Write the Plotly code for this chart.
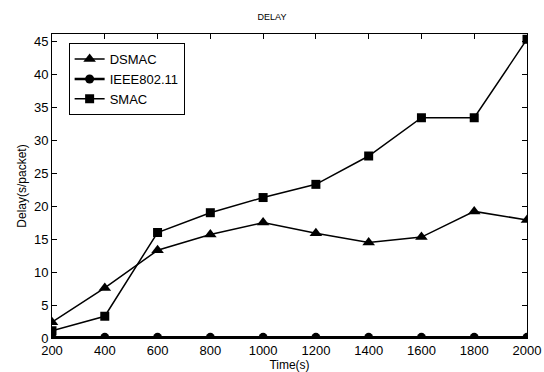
import plotly.graph_objects as go

time_s = [200, 400, 600, 800, 1000, 1200, 1400, 1600, 1800, 2000]
dsmac = [2.4, 7.6, 13.3, 15.7, 17.5, 15.9, 14.5, 15.3, 19.2, 17.9]
ieee80211 = [0.1, 0.1, 0.1, 0.1, 0.1, 0.1, 0.1, 0.1, 0.1, 0.1]
smac = [1.1, 3.3, 16.0, 19.0, 21.3, 23.3, 27.6, 33.4, 33.4, 45.3]
x_ticks = [200, 400, 600, 800, 1000, 1200, 1400, 1600, 1800, 2000]
y_ticks = [0, 5, 10, 15, 20, 25, 30, 35, 40, 45]

font = "Liberation Sans, Arial, sans-serif"
fig = go.Figure()
fig.add_trace(go.Scatter(x=time_s, y=dsmac, name="DSMAC", mode="lines+markers",
                         line=dict(color="black", width=1.5),
                         marker=dict(symbol="triangle-up", size=11, color="black")))
fig.add_trace(go.Scatter(x=time_s, y=ieee80211, name="IEEE802.11", mode="lines+markers",
                         line=dict(color="black", width=2.5),
                         marker=dict(symbol="circle", size=9, color="black")))
fig.add_trace(go.Scatter(x=time_s, y=smac, name="SMAC", mode="lines+markers",
                         line=dict(color="black", width=1.5),
                         marker=dict(symbol="square", size=9, color="black")))

axis_common = dict(showgrid=False, zeroline=False, showline=True, linecolor="black",
                   linewidth=1, mirror="ticks", ticks="inside", ticklen=5,
                   tickcolor="black", automargin=False,
                   tickfont=dict(family=font, size=13, color="black"))
fig.update_xaxes(range=[200, 2000], tickvals=x_ticks, **axis_common,
                 title=dict(text="Time(s)", font=dict(family=font, size=12, color="black"),
                            standoff=0))
fig.update_yaxes(range=[0, 46.1], tickvals=y_ticks, **axis_common,
                 title=dict(text="Delay(s/packet)", font=dict(family=font, size=12, color="black"),
                            standoff=4))
fig.update_layout(
    width=544, height=372,
    margin=dict(l=52, r=17, t=34, b=34, autoexpand=False),
    paper_bgcolor="white", plot_bgcolor="white",
    title=dict(text="DELAY", x=0.5, xanchor="center", y=0.955, yanchor="middle",
               font=dict(family=font, size=9, color="black")),
    legend=dict(x=0.035, y=0.97, xanchor="left", yanchor="top",
                bgcolor="white", bordercolor="black", borderwidth=1,
                font=dict(family=font, size=13, color="black"),
                tracegroupgap=0, itemwidth=30),
    showlegend=True,
)
fig.write_html("out.html")
